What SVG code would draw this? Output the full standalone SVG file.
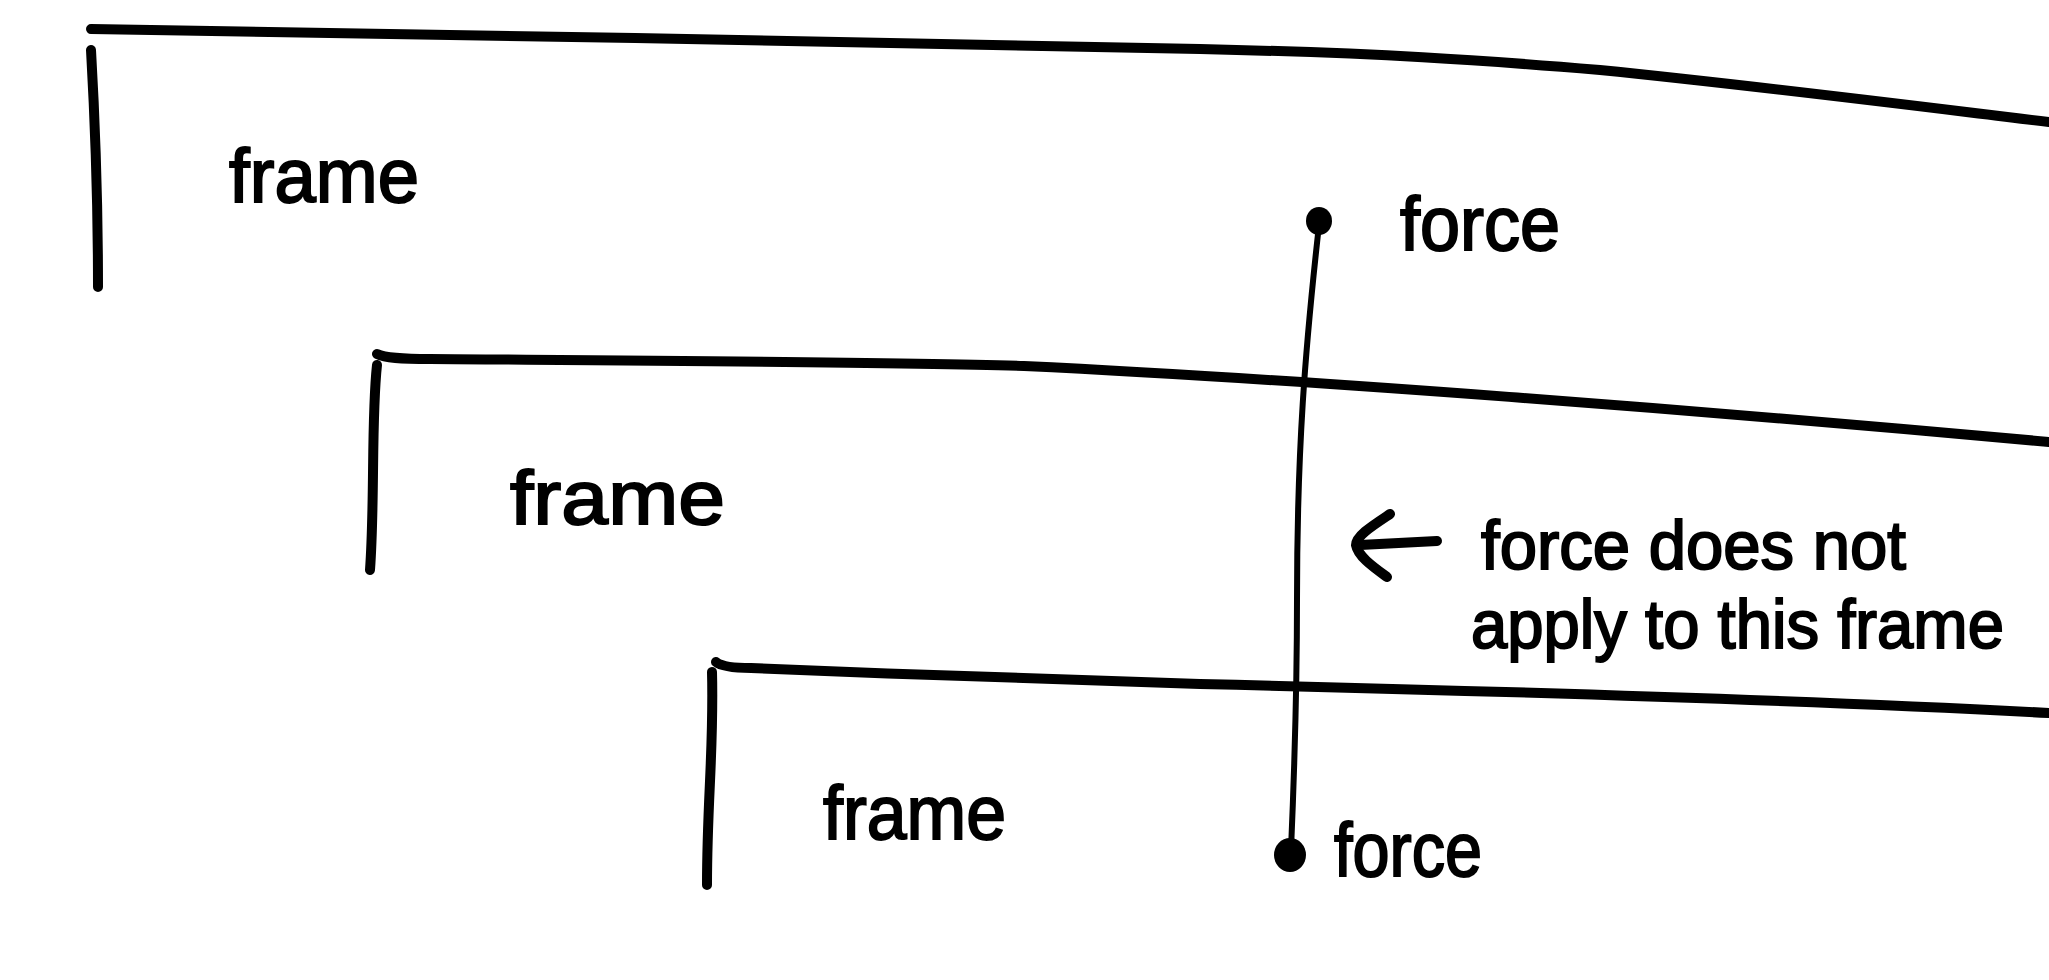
<svg xmlns="http://www.w3.org/2000/svg" width="2049" height="980" viewBox="0 0 2049 980">
  <style>
    .edge { fill: none; stroke: #000; stroke-width: 10; stroke-linecap: round; stroke-linejoin: round; }
    .conn { fill: none; stroke: #000; stroke-width: 6; stroke-linecap: round; stroke-linejoin: round; }
    .lbl { font-family: "Liberation Sans", Arial, sans-serif; font-size: 76px; fill: #000; stroke: #000; stroke-width: 2; }
    .note { font-size: 68px; }
    .dot { fill: #000; }
  </style>
  <rect width="2049" height="980" fill="#fff"/>

  <g id="frame1">
    <path class="edge" d="M91,29 C400,34 900,42 1200,49 C1380,53 1480,60 1600,70 C1750,85 1900,104 2049,122"/>
    <path class="edge" d="M91,50 C95,120 98,200 98,287"/>
    <text class="lbl" x="229" y="202" textLength="190" lengthAdjust="spacingAndGlyphs">frame</text>
  </g>

  <g id="frame2">
    <path class="edge" d="M377,354 C385,358 400,359 430,359 C700,361 900,362 1024,366 C1300,379 1700,410 2049,442"/>
    <path class="edge" d="M377,365 C371,420 375,500 370,570"/>
    <text class="lbl" x="510" y="524" textLength="215" lengthAdjust="spacingAndGlyphs">frame</text>
  </g>

  <g id="frame3">
    <path class="edge" d="M716,662 C722,667 735,668 751,668 C900,674 1000,678 1200,684 C1500,691 1800,700 2049,713"/>
    <path class="edge" d="M712,672 C714,750 707,800 707,885"/>
    <text class="lbl" x="823" y="839" textLength="183" lengthAdjust="spacingAndGlyphs">frame</text>
  </g>

  <g id="force-top">
    <ellipse class="dot" cx="1319" cy="221" rx="13" ry="14"/>
    <text class="lbl" x="1400" y="250" textLength="160" lengthAdjust="spacingAndGlyphs">force</text>
  </g>

  <g id="force-bottom">
    <ellipse class="dot" cx="1290" cy="855" rx="16" ry="17"/>
    <text class="lbl" x="1334" y="876" textLength="148" lengthAdjust="spacingAndGlyphs">force</text>
  </g>

  <g id="connectors">
    <path class="conn" d="M1319,225 C1305,350 1297,450 1297,600 C1297,700 1294,780 1291,850"/>
  </g>

  <g id="annotation">
    <path class="edge" d="M1390,514 C1372,526 1356,536 1356,545 C1358,556 1372,566 1387,577"/>
    <path class="edge" d="M1360,545 L1437,541"/>
    <text class="lbl note" x="1481" y="569" textLength="425" lengthAdjust="spacingAndGlyphs">force does not</text>
    <text class="lbl note" x="1471" y="648" textLength="533" lengthAdjust="spacingAndGlyphs">apply to this frame</text>
  </g>
</svg>
